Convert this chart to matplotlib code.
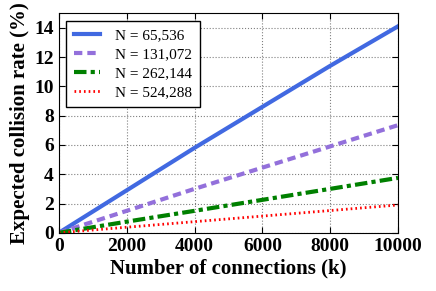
import matplotlib
matplotlib.use('Agg')
import matplotlib.pyplot as plt

# values
k = [0, 2000, 4000, 6000, 8000, 10000]
rate_65536 = [0, 2.9, 5.8, 8.6, 11.4, 14.1]
rate_131072 = [0, 1.5, 3.0, 4.45, 5.9, 7.35]
rate_262144 = [0, 0.76, 1.5, 2.25, 3.0, 3.75]
rate_524288 = [0, 0.38, 0.76, 1.14, 1.52, 1.9]
labels = ['N = 65,536', 'N = 131,072', 'N = 262,144', 'N = 524,288']

plt.rcParams['font.family'] = ['Liberation Serif', 'DejaVu Serif']

fig, ax = plt.subplots(figsize=(4.36, 2.91), dpi=100)
ax.plot(k, rate_65536, color='royalblue', lw=3, ls='-', label=labels[0])
ax.plot(k, rate_131072, color='mediumpurple', lw=3, ls=(0, (2, 1.2)), label=labels[1])
ax.plot(k, rate_262144, color='green', lw=3, ls=(0, (3, 1, 1, 1)), label=labels[2])
ax.plot(k, rate_524288, color='red', lw=2, ls=(0, (0.6, 1.1)), label=labels[3])

ax.set_xlim(0, 10000)
ax.set_ylim(0, 15)
ax.set_xticks([0, 2000, 4000, 6000, 8000, 10000])
ax.set_yticks([0, 2, 4, 6, 8, 10, 12, 14])
ax.tick_params(direction='in', top=True, right=True, labelsize=14, length=4)
for lab in ax.get_xticklabels() + ax.get_yticklabels():
    lab.set_fontweight('bold')
ax.grid(True, ls=':', color='gray', lw=0.8)
ax.set_xlabel('Number of connections (k)', fontsize=15, fontweight='bold', labelpad=3)
ax.set_ylabel('Expected collision rate (%)', fontsize=15, fontweight='bold', labelpad=3)

leg = ax.legend(loc='upper left', fontsize=11, fancybox=False, framealpha=1,
                edgecolor='black', handlelength=1.7, handletextpad=1.0,
                borderpad=0.5, labelspacing=0.35)
leg.get_frame().set_linewidth(1)

plt.subplots_adjust(left=0.135, right=0.913, top=0.955, bottom=0.2)
plt.savefig('out.png', dpi=100)
